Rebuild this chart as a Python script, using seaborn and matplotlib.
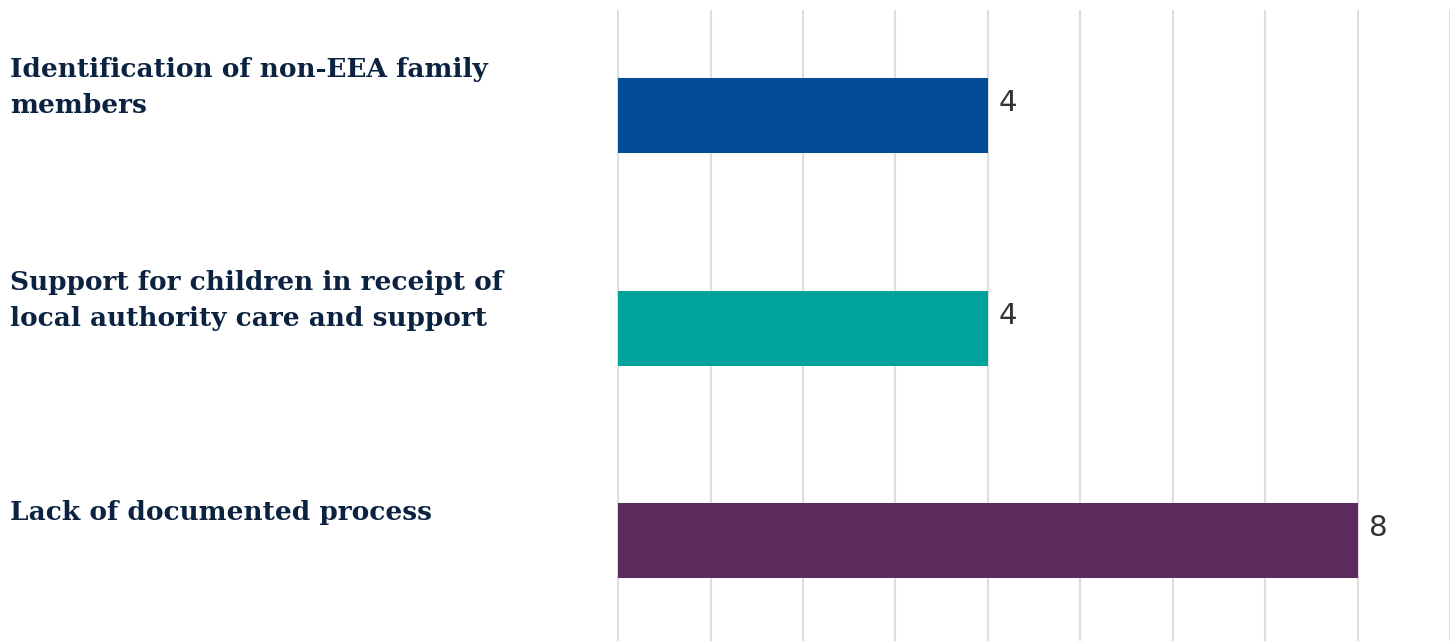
import matplotlib
matplotlib.use("Agg")
import matplotlib.pyplot as plt
import seaborn as sns
import pandas as pd
import numpy as np

categories = ["Identification of non-EEA family\nmembers",
              "Support for children in receipt of\nlocal authority care and support",
              "Lack of documented process"]
values = [4, 4, 8]
colors = ["#024B96", "#00A39A", "#5B2B5D"]

sns.set_theme(style="white")
plt.rcParams['font.family'] = ['DejaVu Sans']

df = pd.DataFrame({"category": categories, "value": values})

fig = plt.figure(figsize=(14.55, 6.41), dpi=100)
ax = fig.add_axes([617/1455, 0.0, (1450-617)/1455, (641-10)/641])

sns.barplot(data=df, y="category", x="value", hue="category", palette=colors,
            orient="h", width=0.353, legend=False, ax=ax, saturation=1,
            linewidth=0)

ax.set_xlim(-0.012, 9.0)
ax.set_ylim(2.473, -0.497)
ax.set_xticks(np.arange(0, 10))
ax.set_xticklabels([])
ax.set_yticks([])
ax.set_xlabel("")
ax.set_ylabel("")
ax.grid(axis="x", color="#dedede", linewidth=1.5)
ax.set_axisbelow(True)
for s in ax.spines.values():
    s.set_visible(False)
ax.tick_params(length=0)

for i, (cat, v) in enumerate(zip(categories, values)):
    ax.annotate(str(v), xy=(v, i), xytext=(8, 9), textcoords="offset points",
                ha="left", va="center", fontsize=21, color="#333333",
                family="DejaVu Sans")
    ax.annotate(cat, xy=(0, i), xycoords=("figure fraction", "data"),
                xytext=(7, 20), textcoords="offset points",
                ha="left", va="center", fontsize=19, fontweight="bold",
                color="#0B2341", family="DejaVu Serif", linespacing=1.55,
                annotation_clip=False)

fig.savefig("out.png", dpi=100)
